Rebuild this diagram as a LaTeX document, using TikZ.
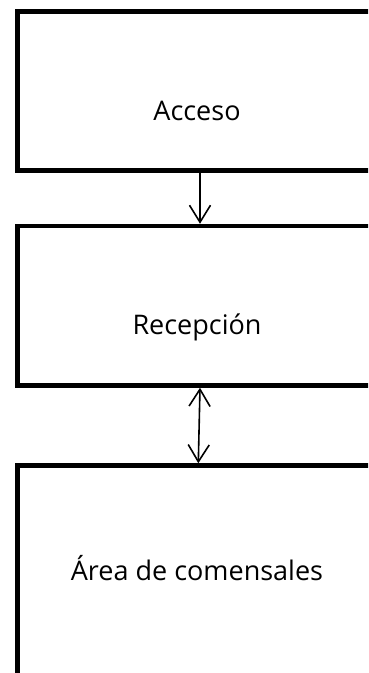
\documentclass[tikz,border=0pt]{standalone}
\usepackage{fontspec}
\setmainfont{Open Sans}
\usetikzlibrary{arrows.meta}
\tikzset{
  caja/.style={draw,line width=4.5pt,minimum width=359pt,outer sep=2.25pt,inner sep=0pt},
  texto/.style={anchor=base,inner sep=0pt,font=\fontsize{27}{32}\selectfont},
  flecha/.style={line width=1.6pt,-{Straight Barb[length=17pt,width=21pt,line width=1.6pt]}},
  dobleflecha/.style={line width=1.6pt,{Straight Barb[length=17pt,width=21pt,line width=1.6pt]}-{Straight Barb[length=17pt,width=21pt,line width=1.6pt]}}
}

\begin{document}
\begin{tikzpicture}[x=1pt,y=1pt]
    \useasboundingbox (0,0) rectangle (368,-673);
    \clip (0,0) rectangle (368,-673);
    % cajas
    \node[caja,minimum height=159pt] (acceso) at (197,-91) {};
    \node[caja,minimum height=159.5pt] (recepcion) at (197,-305.75) {};
    \node[caja,minimum height=300pt] (comensales) at (197,-615.5) {};
    % textos
    \node[texto] (tacceso) at ([yshift=-111.5pt]acceso.north) {Acceso};
    \node[texto] (trecepcion) at ([yshift=-111pt]recepcion.north) {Recepción};
    \node[texto] (tcomensales) at ([yshift=-117.5pt]comensales.north) {Área de comensales};
    % flechas
    \draw[flecha] ([xshift=3pt]acceso.south) -- ([xshift=3pt]recepcion.north);
    \draw[dobleflecha] ([xshift=3pt]recepcion.south) -- ([xshift=1.3pt]comensales.north);
\end{tikzpicture}
\end{document}
